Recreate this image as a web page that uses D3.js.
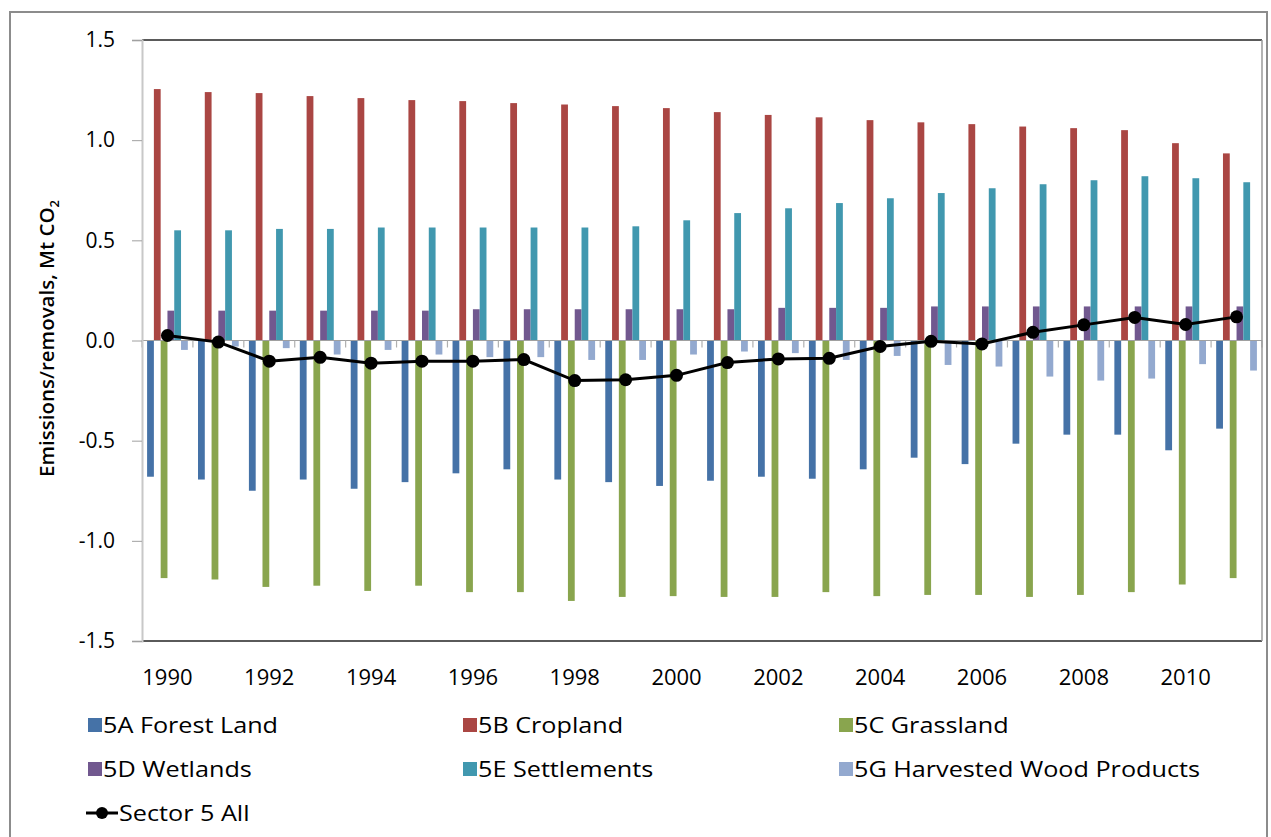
<!DOCTYPE html>
<html><head><meta charset="utf-8">
<script src="https://cdn.jsdelivr.net/npm/d3@7"></script>
<style>
body{margin:0;background:#fff;}
svg{display:block;}
text{font-family:"Open Sans","Liberation Sans",sans-serif;fill:#000;}
</style></head>
<body>
<svg id="chart" width="1271" height="837"></svg>
<script>
const years = [1990,1991,1992,1993,1994,1995,1996,1997,1998,1999,2000,2001,2002,2003,2004,2005,2006,2007,2008,2009,2010,2011];
const seriesNames = ["5A Forest Land","5B Cropland","5C Grassland","5D Wetlands","5E Settlements","5G Harvested Wood Products"];
const lineName = "Sector 5 All";
const forestLand = [-0.68,-0.694,-0.75,-0.694,-0.74,-0.707,-0.663,-0.643,-0.694,-0.707,-0.726,-0.70,-0.68,-0.69,-0.643,-0.585,-0.617,-0.515,-0.47,-0.47,-0.548,-0.44];
const cropland = [1.255,1.24,1.235,1.22,1.21,1.20,1.195,1.185,1.178,1.17,1.16,1.14,1.126,1.114,1.10,1.089,1.08,1.068,1.06,1.05,0.985,0.934];
const grassland = [-1.186,-1.193,-1.23,-1.224,-1.25,-1.224,-1.256,-1.256,-1.30,-1.28,-1.276,-1.28,-1.28,-1.256,-1.276,-1.27,-1.27,-1.28,-1.27,-1.256,-1.218,-1.186];
const wetlands = [0.149,0.149,0.149,0.149,0.149,0.149,0.156,0.156,0.156,0.156,0.156,0.156,0.163,0.163,0.163,0.17,0.17,0.17,0.17,0.17,0.17,0.17];
const settlements = [0.55,0.55,0.557,0.557,0.564,0.564,0.564,0.564,0.564,0.57,0.60,0.636,0.66,0.686,0.71,0.736,0.76,0.78,0.80,0.82,0.81,0.79];
const hwp = [-0.047,-0.03,-0.038,-0.07,-0.047,-0.07,-0.083,-0.083,-0.097,-0.097,-0.07,-0.055,-0.063,-0.097,-0.077,-0.122,-0.13,-0.18,-0.20,-0.19,-0.118,-0.15];
const sectorAll = [0.025,-0.008,-0.103,-0.084,-0.113,-0.103,-0.103,-0.095,-0.20,-0.196,-0.174,-0.11,-0.092,-0.089,-0.03,-0.004,-0.017,0.041,0.078,0.115,0.08,0.118];
const yTicks = [-1.5,-1.0,-0.5,0.0,0.5,1.0,1.5];
const xTickYears = [1990,1992,1994,1996,1998,2000,2002,2004,2006,2008,2010];
const colors = ["#4572A7","#AA4643","#89A54E","#71588F","#4198AF","#93A9CF"];
const barSeries = [forestLand,cropland,grassland,wetlands,settlements,hwp];

const svg = d3.select("#chart");
const L=142, R=1262, T=40, B=641;

// outer frame
svg.append("rect").attr("x",10).attr("y",12).attr("width",1257).attr("height",840)
  .attr("fill","#fff").attr("stroke","#8c8c8c").attr("stroke-width",2);

const x0 = d3.scaleBand().domain(years).range([L,R]).paddingInner(0.2).paddingOuter(0.1);
const x1 = d3.scaleBand().domain(d3.range(seriesNames.length)).range([0,x0.bandwidth()]);
const y = d3.scaleLinear().domain([-1.5,1.5]).range([B,T]);
const step = x0.step();

// bars
barSeries.forEach((vals,si)=>{
  svg.append("g").selectAll("rect").data(years).join("rect")
    .attr("x",(d)=>x0(d)+x1(si))
    .attr("width",x1.bandwidth())
    .attr("y",(d,i)=>Math.min(y(vals[i]),y(0)))
    .attr("height",(d,i)=>Math.abs(y(vals[i])-y(0)))
    .attr("fill",colors[si]);
});

// zero axis and category ticks
svg.append("line").attr("x1",L).attr("x2",R).attr("y1",y(0)).attr("y2",y(0)).attr("stroke","#a0a0a0").attr("stroke-width",1.2);
svg.append("g").selectAll("line").data(d3.range(years.length+1)).join("line")
  .attr("x1",i=>L+i*step).attr("x2",i=>L+i*step)
  .attr("y1",y(0)).attr("y2",y(0)+7).attr("stroke","#b0b0b0").attr("stroke-width",1.2);

// plot frame
svg.append("line").attr("x1",L).attr("x2",R).attr("y1",T).attr("y2",T).attr("stroke","#5a5a5a").attr("stroke-width",1.8);
svg.append("line").attr("x1",L).attr("x2",R).attr("y1",B).attr("y2",B).attr("stroke","#5a5a5a").attr("stroke-width",1.8);
svg.append("line").attr("x1",R).attr("x2",R).attr("y1",T).attr("y2",B).attr("stroke","#9a9a9a").attr("stroke-width",1.5);

// y axis
const fmt = d => d3.format(".1f")(d).replace("\u2212","-");
const yAxis = svg.append("g").attr("transform",`translate(${L},0)`)
  .call(d3.axisLeft(y).tickValues(yTicks).tickFormat(fmt).tickSize(10).tickPadding(17));
yAxis.select(".domain").attr("stroke","#c8c8c8").attr("stroke-width",2);
yAxis.selectAll(".tick line").attr("stroke","#a0a0a0");
yAxis.selectAll(".tick text").attr("font-size",21).attr("font-family","'Open Sans',sans-serif").attr("fill","#000");

// x labels
svg.append("g").selectAll("text").data(xTickYears).join("text")
  .attr("x",d=>x0(d)+x0.bandwidth()/2)
  .attr("y",685)
  .attr("text-anchor","middle").attr("font-size",22).text(d=>d);

// line
const lx = (d)=>x0(d)+x0.bandwidth()/2;
const pts = years.map((yr,i)=>[lx(yr),y(sectorAll[i])]);
svg.append("path").attr("d",d3.line()(pts)).attr("fill","none").attr("stroke","#000").attr("stroke-width",3);
svg.append("g").selectAll("circle").data(pts).join("circle")
  .attr("cx",d=>d[0]).attr("cy",d=>d[1]).attr("r",6.5).attr("fill","#000");

// y title
svg.append("text").attr("transform",`translate(54,${(T+B)/2 - 2}) rotate(-90)`)
  .attr("text-anchor","middle").attr("font-size",20.5).attr("font-weight",600)
  .html('Emissions/removals, Mt CO<tspan font-size="13" dy="5">2</tspan>');

// legend
const legX = [88,463,839];
const legY = [725,769];
const sx = 1.2;
seriesNames.forEach((nm,i)=>{
  const cx = legX[i%3], cy = legY[Math.floor(i/3)];
  svg.append("rect").attr("x",cx).attr("y",cy-7).attr("width",14).attr("height",14).attr("fill",colors[i]);
  svg.append("text").attr("x",cx+15).attr("y",cy+8).attr("font-size",21)
    .attr("transform",`translate(${cx+15},0) scale(${sx},1) translate(${-(cx+15)},0)`).text(nm);
});
svg.append("line").attr("x1",86).attr("x2",118).attr("y1",813).attr("y2",813).attr("stroke","#000").attr("stroke-width",3);
svg.append("circle").attr("cx",102).attr("cy",813).attr("r",6).attr("fill","#000");
svg.append("text").attr("x",119).attr("y",821).attr("font-size",21)
  .attr("transform",`translate(119,0) scale(${sx},1) translate(-119,0)`).text(lineName);
</script>
</body></html>
